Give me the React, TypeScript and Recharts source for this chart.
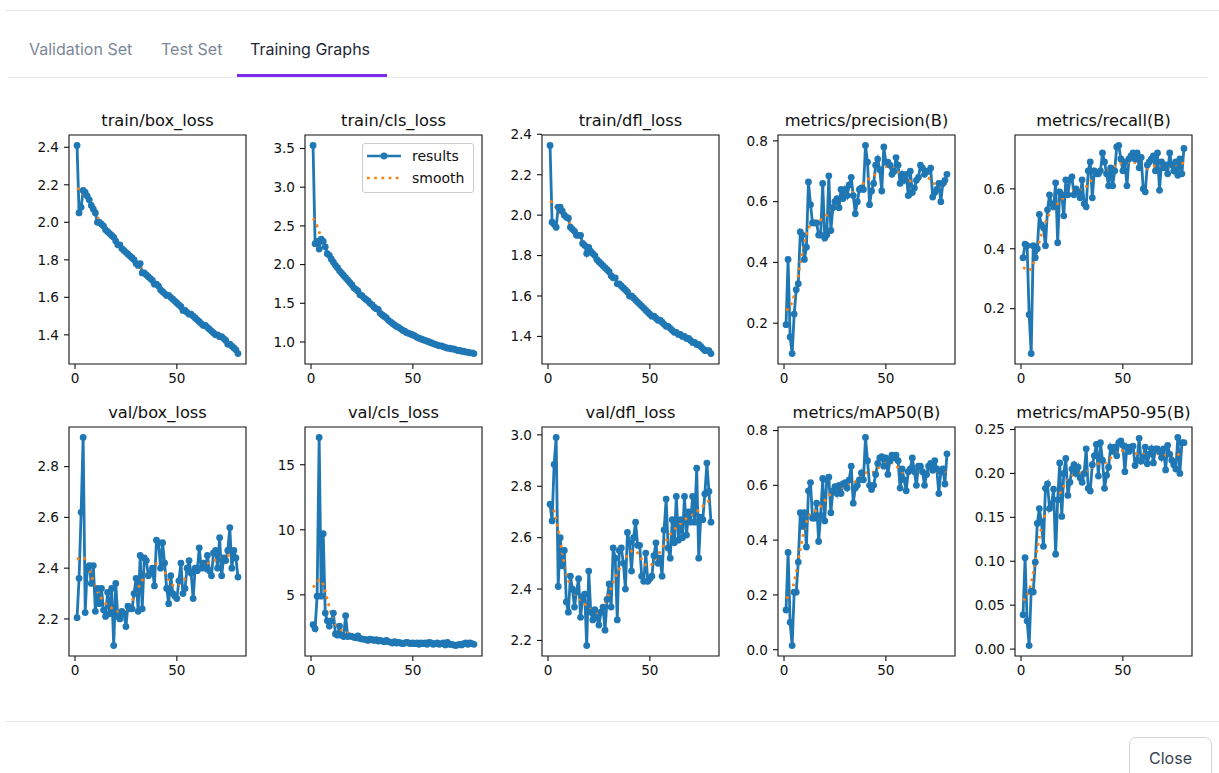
import React from "react";
import { LineChart, Line, XAxis, YAxis, ReferenceArea } from "recharts";

const EPOCHS = Array.from({ length: 80 }, (_, i) => i + 1);

const TRAIN_BOX = [2.41,2.05,2.08,2.17,2.16,2.14,2.12,2.09,2.07,2.05,2.00,2.00,1.99,1.98,1.96,1.95,1.94,1.93,1.92,1.90,1.88,1.88,1.86,1.85,1.84,1.83,1.82,1.81,1.80,1.78,1.77,1.78,1.73,1.73,1.72,1.71,1.70,1.69,1.67,1.67,1.66,1.64,1.63,1.62,1.61,1.61,1.60,1.59,1.58,1.57,1.56,1.55,1.53,1.53,1.52,1.51,1.51,1.50,1.49,1.48,1.47,1.46,1.45,1.45,1.44,1.43,1.42,1.41,1.40,1.40,1.39,1.39,1.38,1.37,1.35,1.35,1.34,1.33,1.32,1.30];
const TRAIN_CLS = [3.54,2.27,2.30,2.20,2.33,2.30,2.23,2.14,2.12,2.07,2.03,1.99,1.96,1.92,1.89,1.86,1.83,1.80,1.77,1.74,1.70,1.68,1.66,1.61,1.60,1.57,1.55,1.53,1.50,1.48,1.45,1.43,1.42,1.37,1.35,1.33,1.31,1.28,1.26,1.24,1.22,1.20,1.19,1.17,1.15,1.14,1.12,1.11,1.10,1.09,1.08,1.06,1.05,1.04,1.03,1.02,1.01,1.00,0.99,0.98,0.97,0.96,0.95,0.95,0.94,0.93,0.92,0.92,0.91,0.91,0.90,0.89,0.89,0.88,0.88,0.87,0.87,0.86,0.86,0.85];
const TRAIN_DFL = [2.345,1.965,1.955,1.94,2.04,2.04,2.02,2.00,1.99,1.985,1.94,1.93,1.92,1.90,1.90,1.90,1.86,1.85,1.81,1.84,1.82,1.81,1.80,1.78,1.77,1.76,1.75,1.74,1.73,1.72,1.70,1.69,1.69,1.66,1.66,1.65,1.64,1.63,1.62,1.60,1.60,1.59,1.58,1.57,1.56,1.55,1.54,1.53,1.52,1.51,1.50,1.50,1.49,1.48,1.48,1.47,1.46,1.45,1.45,1.44,1.43,1.42,1.42,1.41,1.41,1.40,1.40,1.39,1.39,1.38,1.37,1.37,1.36,1.36,1.35,1.34,1.33,1.33,1.33,1.315];
const PRECISION = [0.195,0.41,0.155,0.10,0.23,0.31,0.33,0.50,0.49,0.41,0.45,0.665,0.59,0.53,0.53,0.53,0.49,0.49,0.66,0.48,0.49,0.685,0.505,0.58,0.60,0.61,0.58,0.64,0.61,0.64,0.62,0.655,0.68,0.62,0.56,0.60,0.64,0.645,0.64,0.785,0.73,0.59,0.635,0.66,0.72,0.74,0.705,0.635,0.78,0.73,0.73,0.72,0.69,0.70,0.745,0.72,0.66,0.69,0.67,0.69,0.62,0.70,0.63,0.645,0.67,0.68,0.72,0.71,0.69,0.70,0.70,0.71,0.615,0.63,0.64,0.66,0.60,0.66,0.67,0.69];
const RECALL = [0.37,0.415,0.41,0.18,0.05,0.41,0.37,0.40,0.515,0.48,0.47,0.41,0.53,0.58,0.55,0.54,0.62,0.42,0.59,0.58,0.51,0.63,0.58,0.63,0.64,0.58,0.60,0.59,0.57,0.63,0.55,0.54,0.66,0.69,0.57,0.66,0.65,0.65,0.66,0.72,0.69,0.65,0.61,0.67,0.61,0.66,0.74,0.745,0.70,0.66,0.69,0.61,0.70,0.71,0.72,0.70,0.72,0.67,0.705,0.60,0.59,0.68,0.69,0.70,0.71,0.66,0.72,0.595,0.69,0.67,0.68,0.65,0.72,0.68,0.66,0.69,0.645,0.70,0.65,0.735];
const VAL_BOX = [2.205,2.36,2.62,2.915,2.225,2.40,2.41,2.34,2.41,2.23,2.32,2.26,2.32,2.235,2.21,2.305,2.22,2.32,2.095,2.34,2.21,2.20,2.23,2.22,2.17,2.25,2.24,2.24,2.30,2.36,2.23,2.45,2.24,2.44,2.43,2.37,2.38,2.40,2.33,2.51,2.50,2.40,2.50,2.42,2.32,2.26,2.37,2.30,2.29,2.28,2.35,2.42,2.30,2.32,2.40,2.43,2.38,2.28,2.40,2.39,2.48,2.40,2.42,2.40,2.45,2.39,2.37,2.46,2.47,2.40,2.52,2.37,2.44,2.43,2.47,2.56,2.40,2.47,2.44,2.365];
const VAL_CLS = [2.7,2.4,4.9,17.1,4.9,9.7,3.6,3.0,2.6,3.0,3.6,2.0,1.9,2.6,1.9,1.8,3.4,1.8,1.85,1.8,1.75,1.7,1.85,1.65,1.6,1.6,1.55,1.5,1.6,1.55,1.5,1.55,1.45,1.5,1.45,1.4,1.5,1.4,1.35,1.3,1.4,1.3,1.35,1.3,1.25,1.3,1.35,1.3,1.25,1.3,1.25,1.3,1.2,1.3,1.25,1.3,1.2,1.35,1.3,1.2,1.25,1.3,1.2,1.25,1.3,1.15,1.35,1.2,1.2,1.15,1.1,1.15,1.2,1.15,1.25,1.3,1.2,1.3,1.25,1.2];
const VAL_DFL = [2.73,2.665,2.885,2.99,2.41,2.60,2.49,2.55,2.35,2.31,2.45,2.40,2.33,2.39,2.44,2.29,2.37,2.38,2.18,2.47,2.31,2.28,2.32,2.29,2.26,2.31,2.33,2.24,2.36,2.42,2.33,2.56,2.52,2.28,2.55,2.56,2.50,2.40,2.62,2.58,2.47,2.60,2.66,2.57,2.57,2.45,2.43,2.54,2.43,2.44,2.45,2.53,2.58,2.50,2.52,2.45,2.63,2.75,2.56,2.52,2.67,2.58,2.76,2.59,2.67,2.60,2.76,2.61,2.70,2.66,2.76,2.66,2.87,2.52,2.68,2.67,2.77,2.89,2.78,2.66];
const MAP50 = [0.145,0.355,0.10,0.015,0.21,0.21,0.32,0.50,0.45,0.50,0.375,0.58,0.61,0.48,0.48,0.535,0.395,0.49,0.625,0.47,0.62,0.63,0.50,0.58,0.595,0.57,0.60,0.57,0.605,0.61,0.59,0.62,0.67,0.535,0.59,0.60,0.62,0.645,0.62,0.775,0.69,0.60,0.585,0.60,0.64,0.68,0.70,0.705,0.67,0.70,0.64,0.69,0.71,0.70,0.71,0.69,0.59,0.66,0.62,0.58,0.65,0.66,0.70,0.65,0.60,0.67,0.67,0.65,0.60,0.64,0.67,0.68,0.655,0.69,0.66,0.57,0.65,0.66,0.605,0.715];
const MAP5095 = [0.039,0.104,0.032,0.004,0.066,0.065,0.099,0.143,0.16,0.145,0.117,0.183,0.188,0.16,0.165,0.182,0.108,0.17,0.212,0.151,0.20,0.217,0.175,0.19,0.205,0.21,0.20,0.207,0.195,0.19,0.20,0.228,0.183,0.18,0.21,0.22,0.233,0.197,0.235,0.215,0.183,0.198,0.207,0.23,0.225,0.23,0.22,0.235,0.237,0.232,0.202,0.23,0.225,0.23,0.231,0.209,0.215,0.24,0.214,0.218,0.23,0.211,0.222,0.228,0.212,0.228,0.228,0.225,0.218,0.228,0.204,0.232,0.222,0.215,0.21,0.205,0.241,0.2,0.235,0.235];

const TITLES = ["train/box_loss","train/cls_loss","train/dfl_loss","metrics/precision(B)","metrics/recall(B)","val/box_loss","val/cls_loss","val/dfl_loss","metrics/mAP50(B)","metrics/mAP50-95(B)"];
const SERIES = [TRAIN_BOX, TRAIN_CLS, TRAIN_DFL, PRECISION, RECALL, VAL_BOX, VAL_CLS, VAL_DFL, MAP50, MAP5095];
const Y_TICKS = [
  [1.4,1.6,1.8,2.0,2.2,2.4],
  [1.0,1.5,2.0,2.5,3.0,3.5],
  [1.4,1.6,1.8,2.0,2.2,2.4],
  [0.2,0.4,0.6,0.8],
  [0.2,0.4,0.6],
  [2.2,2.4,2.6,2.8],
  [5,10,15],
  [2.2,2.4,2.6,2.8,3.0],
  [0.0,0.2,0.4,0.6,0.8],
  [0.00,0.05,0.10,0.15,0.20,0.25],
];
const Y_DECIMALS = [1,1,1,1,1,1,0,1,1,2];
const X_TICKS = [0, 50];

// gaussian_filter1d(y, sigma=3), scipy 'reflect' mode, truncate 4
function gaussianSmooth(y: number[], sigma = 3): number[] {
  const radius = Math.round(4 * sigma);
  const w: number[] = [];
  let sum = 0;
  for (let k = -radius; k <= radius; k++) {
    const v = Math.exp(-(k * k) / (2 * sigma * sigma));
    w.push(v);
    sum += v;
  }
  const n = y.length;
  const idx = (i: number) => {
    while (i < 0 || i >= n) {
      if (i < 0) i = -i - 1;
      if (i >= n) i = 2 * n - i - 1;
    }
    return i;
  };
  return y.map((_, i) => {
    let acc = 0;
    for (let k = -radius; k <= radius; k++) acc += (w[k + radius] / sum) * y[idx(i + k)];
    return acc;
  });
}

const COL_LEFT = [69, 305, 542, 778, 1015];
const ROW_TOP = [135, 427];
const BOX_W = 177;
const BOX_H = 229;
const X_DOMAIN: [number, number] = [-2.95, 83.95];
const MPL_FONT = '"DejaVu Sans", Verdana, sans-serif';
const BLUE = "#1f77b4";
const ORANGE = "#ff7f0e";

function Subplot({ index }: { index: number }) {
  const values = SERIES[index];
  const smooth = gaussianSmooth(values);
  const data = EPOCHS.map((e, i) => ({ x: e, r: values[i], s: smooth[i] }));
  const lo = Math.min(...values);
  const hi = Math.max(...values);
  const pad = (hi - lo) * 0.05;
  const yDomain: [number, number] = [lo - pad, hi + pad];
  const left = COL_LEFT[index % 5];
  const top = ROW_TOP[Math.floor(index / 5)];
  const YW = 60, TOP = 14, RIGHT = 8, XH = 30;
  const tickStyle = { fontFamily: MPL_FONT, fontSize: 13.6, fill: "#111" };
  return (
    <>
      <div
        style={{
          position: "absolute",
          left: left - 20,
          width: BOX_W + 40,
          top: top - 22,
          textAlign: "center",
          fontFamily: MPL_FONT,
          fontSize: 16.3,
          lineHeight: "16.3px",
          color: "#111",
          whiteSpace: "nowrap",
        }}
      >
        {TITLES[index]}
      </div>
      <div style={{ position: "absolute", left: left - YW, top: top - TOP }}>
        <LineChart
          width={YW + BOX_W + RIGHT}
          height={TOP + BOX_H + XH}
          data={data}
          margin={{ top: TOP, right: RIGHT, bottom: 0, left: 0 }}
        >
          <XAxis
            dataKey="x"
            type="number"
            domain={X_DOMAIN}
            ticks={X_TICKS}
            allowDataOverflow
            axisLine={false}
            tickLine={{ stroke: "#111", strokeWidth: 1.1 }}
            tickSize={5}
            tickMargin={4}
            height={XH}
            interval={0}
            tick={tickStyle}
          />
          <YAxis
            type="number"
            domain={yDomain}
            ticks={Y_TICKS[index]}
            allowDataOverflow
            axisLine={false}
            tickLine={{ stroke: "#111", strokeWidth: 1.1 }}
            tickSize={5}
            tickMargin={5}
            width={YW}
            interval={0}
            tick={tickStyle}
            tickFormatter={(v: number) => v.toFixed(Y_DECIMALS[index])}
          />
          <ReferenceArea
            x1={X_DOMAIN[0]}
            x2={X_DOMAIN[1]}
            y1={yDomain[0]}
            y2={yDomain[1]}
            fill="none"
            fillOpacity={0}
            stroke="#111"
            strokeWidth={1.1}
            strokeOpacity={1}
            ifOverflow="visible"
          />
          <Line
            dataKey="r"
            type="linear"
            stroke={BLUE}
            strokeWidth={2.8}
            dot={{ r: 3.4, fill: BLUE, stroke: "none" }}
            activeDot={false}
            isAnimationActive={false}
          />
          <Line
            dataKey="s"
            type="linear"
            stroke={ORANGE}
            strokeWidth={2.7}
            strokeDasharray="2.7 4.5"
            dot={false}
            activeDot={false}
            isAnimationActive={false}
          />
        </LineChart>
      </div>
    </>
  );
}

function LegendBox() {
  return (
    <div
      style={{
        position: "absolute",
        left: 362,
        top: 143,
        width: 112,
        height: 50,
        border: "1px solid #cccccc",
        borderRadius: 3,
        background: "rgba(255,255,255,0.8)",
        boxSizing: "border-box",
        fontFamily: MPL_FONT,
        fontSize: 14,
        color: "#111",
      }}
    >
      <div style={{ position: "absolute", left: 4, top: 5, display: "flex", alignItems: "center" }}>
        <svg width={34} height={12}>
          <line x1={0} y1={6} x2={34} y2={6} stroke={BLUE} strokeWidth={2.7} />
          <circle cx={17} cy={6} r={3.4} fill={BLUE} />
        </svg>
        <span style={{ marginLeft: 11, lineHeight: "14px" }}>results</span>
      </div>
      <div style={{ position: "absolute", left: 4, top: 27, display: "flex", alignItems: "center" }}>
        <svg width={34} height={12}>
          <line x1={0} y1={6} x2={34} y2={6} stroke={ORANGE} strokeWidth={2.7} strokeDasharray="2.7 4.5" />
        </svg>
        <span style={{ marginLeft: 11, lineHeight: "14px" }}>smooth</span>
      </div>
    </div>
  );
}

const TABS = ["Validation Set", "Test Set", "Training Graphs"];
const TAB_LEFT = [29, 161, 250];

export default function App() {
  return (
    <div
      style={{
        position: "absolute",
        left: 0,
        top: 0,
        width: 1219,
        height: 773,
        background: "#fff",
        overflow: "hidden",
        fontFamily: "Inter, 'Noto Sans', sans-serif",
      }}
    >
      <div style={{ position: "absolute", left: 5, right: 0, top: 10, height: 1, background: "#e5e7eb" }} />
      {TABS.map((t, i) => (
        <div
          key={t}
          style={{
            position: "absolute",
            left: TAB_LEFT[i],
            top: 39,
            fontSize: 16,
            lineHeight: "20px",
            color: i === 2 ? "#1f2937" : "#7b8798",
            whiteSpace: "nowrap",
          }}
        >
          {t}
        </div>
      ))}
      <div style={{ position: "absolute", left: 8, width: 1200, top: 77, height: 1, background: "#e5e7eb" }} />
      <div style={{ position: "absolute", left: 237, width: 150, top: 74, height: 3, background: "#7c2cf0" }} />

      {TITLES.map((_, i) => (
        <Subplot key={i} index={i} />
      ))}
      <LegendBox />

      <div style={{ position: "absolute", left: 5, right: 0, top: 721, height: 1, background: "#e5e7eb" }} />
      <div
        style={{
          position: "absolute",
          left: 1129,
          top: 737,
          width: 83,
          height: 44,
          border: "1px solid #d1d5db",
          borderRadius: 7,
          boxSizing: "border-box",
          fontSize: 16,
          color: "#374151",
          textAlign: "center",
          paddingTop: 10,
        }}
      >
        Close
      </div>
    </div>
  );
}
